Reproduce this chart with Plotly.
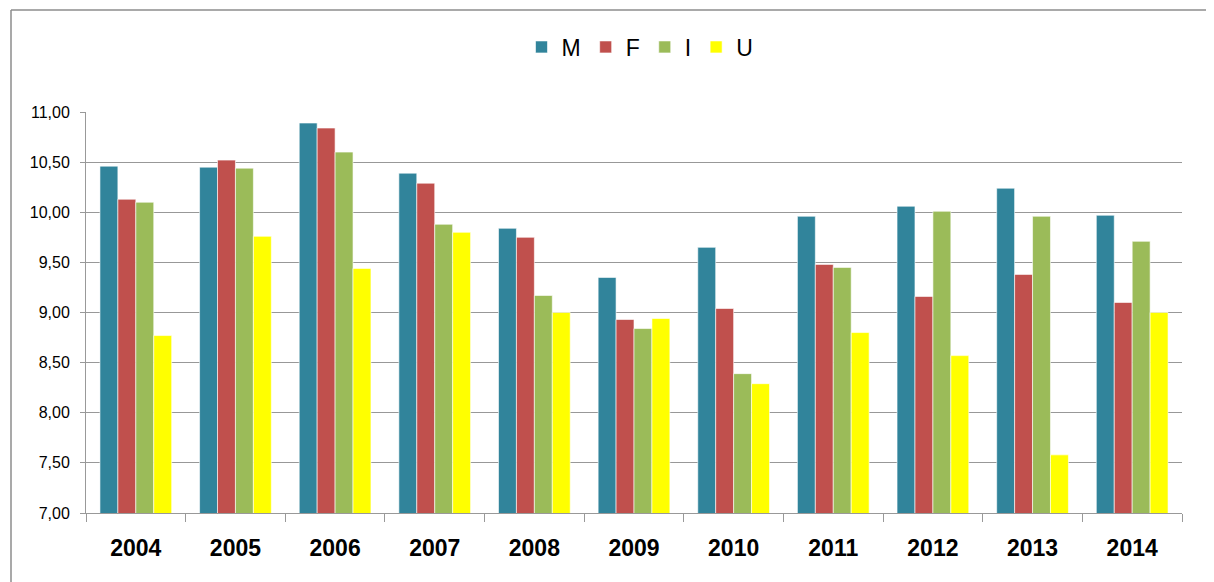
import plotly.graph_objects as go

years = ["2004", "2005", "2006", "2007", "2008", "2009", "2010", "2011", "2012", "2013", "2014"]
M = [10.46, 10.45, 10.89, 10.39, 9.84, 9.35, 9.65, 9.96, 10.06, 10.24, 9.97]
F = [10.13, 10.52, 10.84, 10.29, 9.75, 8.93, 9.04, 9.48, 9.16, 9.38, 9.10]
I = [10.10, 10.44, 10.60, 9.88, 9.17, 8.84, 8.39, 9.45, 10.01, 9.96, 9.71]
U = [8.77, 9.76, 9.44, 9.80, 9.00, 8.94, 8.29, 8.80, 8.57, 7.58, 9.00]

series = [("M", M, "#31849B"), ("F", F, "#C0504D"), ("I", I, "#9BBB59"), ("U", U, "#FFFF00")]

fig = go.Figure()
for name, vals, col in series:
    fig.add_trace(go.Bar(x=years, y=vals, name=name,
                         marker=dict(color=col, line=dict(color="rgba(255,255,255,0.6)", width=1))))

# page has an 8px body margin; compensate
OFF = 8
W, H = 1214 - OFF, 582 - OFF
l, t = 86 - OFF, 112 - OFF
pw, ph = 1096, 401
r = W - l - pw
b = H - t - ph

fig.update_layout(
    width=W, height=H,
    margin=dict(l=l, r=r, t=t, b=b),
    paper_bgcolor="white", plot_bgcolor="white",
    barmode="group", bargap=0.28, bargroupgap=0,
    separators=", ",
    font=dict(family="Liberation Sans, Arial, sans-serif", color="black"),
    legend=dict(orientation="h", x=(640 - 86) / pw, xanchor="center", y=(513 - 47) / ph, yanchor="middle",
                font=dict(size=23), itemwidth=30, traceorder="normal"),
    xaxis=dict(showline=True, linecolor="#999999", linewidth=1, ticks="outside", tickson="boundaries",
               ticklen=8, tickcolor="#999999", tickfont=dict(size=23, color="black"),
               ticklabelstandoff=14, showgrid=False),
    yaxis=dict(range=[7, 11], dtick=0.5, tickformat=".2f", showline=True, linecolor="#999999", linewidth=1,
               ticks="outside", ticklen=5, tickcolor="#999999", showgrid=True, gridcolor="#989898",
               gridwidth=1, tickfont=dict(size=16), ticklabelstandoff=7, zeroline=False),
)
fig.update_xaxes(tickvals=years, ticktext=["<b>" + y + "</b>" for y in years])

# outer chart border (top and left lines)
x0 = (11 - 86) / pw
y0 = (513 - 10) / ph
fig.add_shape(type="line", xref="paper", yref="paper", x0=x0, x1=(1220 - 86) / pw, y0=y0, y1=y0,
              line=dict(color="#8c8c8c", width=1.5))
fig.add_shape(type="line", xref="paper", yref="paper", x0=x0, x1=x0, y0=y0, y1=-(90) / ph,
              line=dict(color="#8c8c8c", width=1.5))

fig.write_html("out.html")
